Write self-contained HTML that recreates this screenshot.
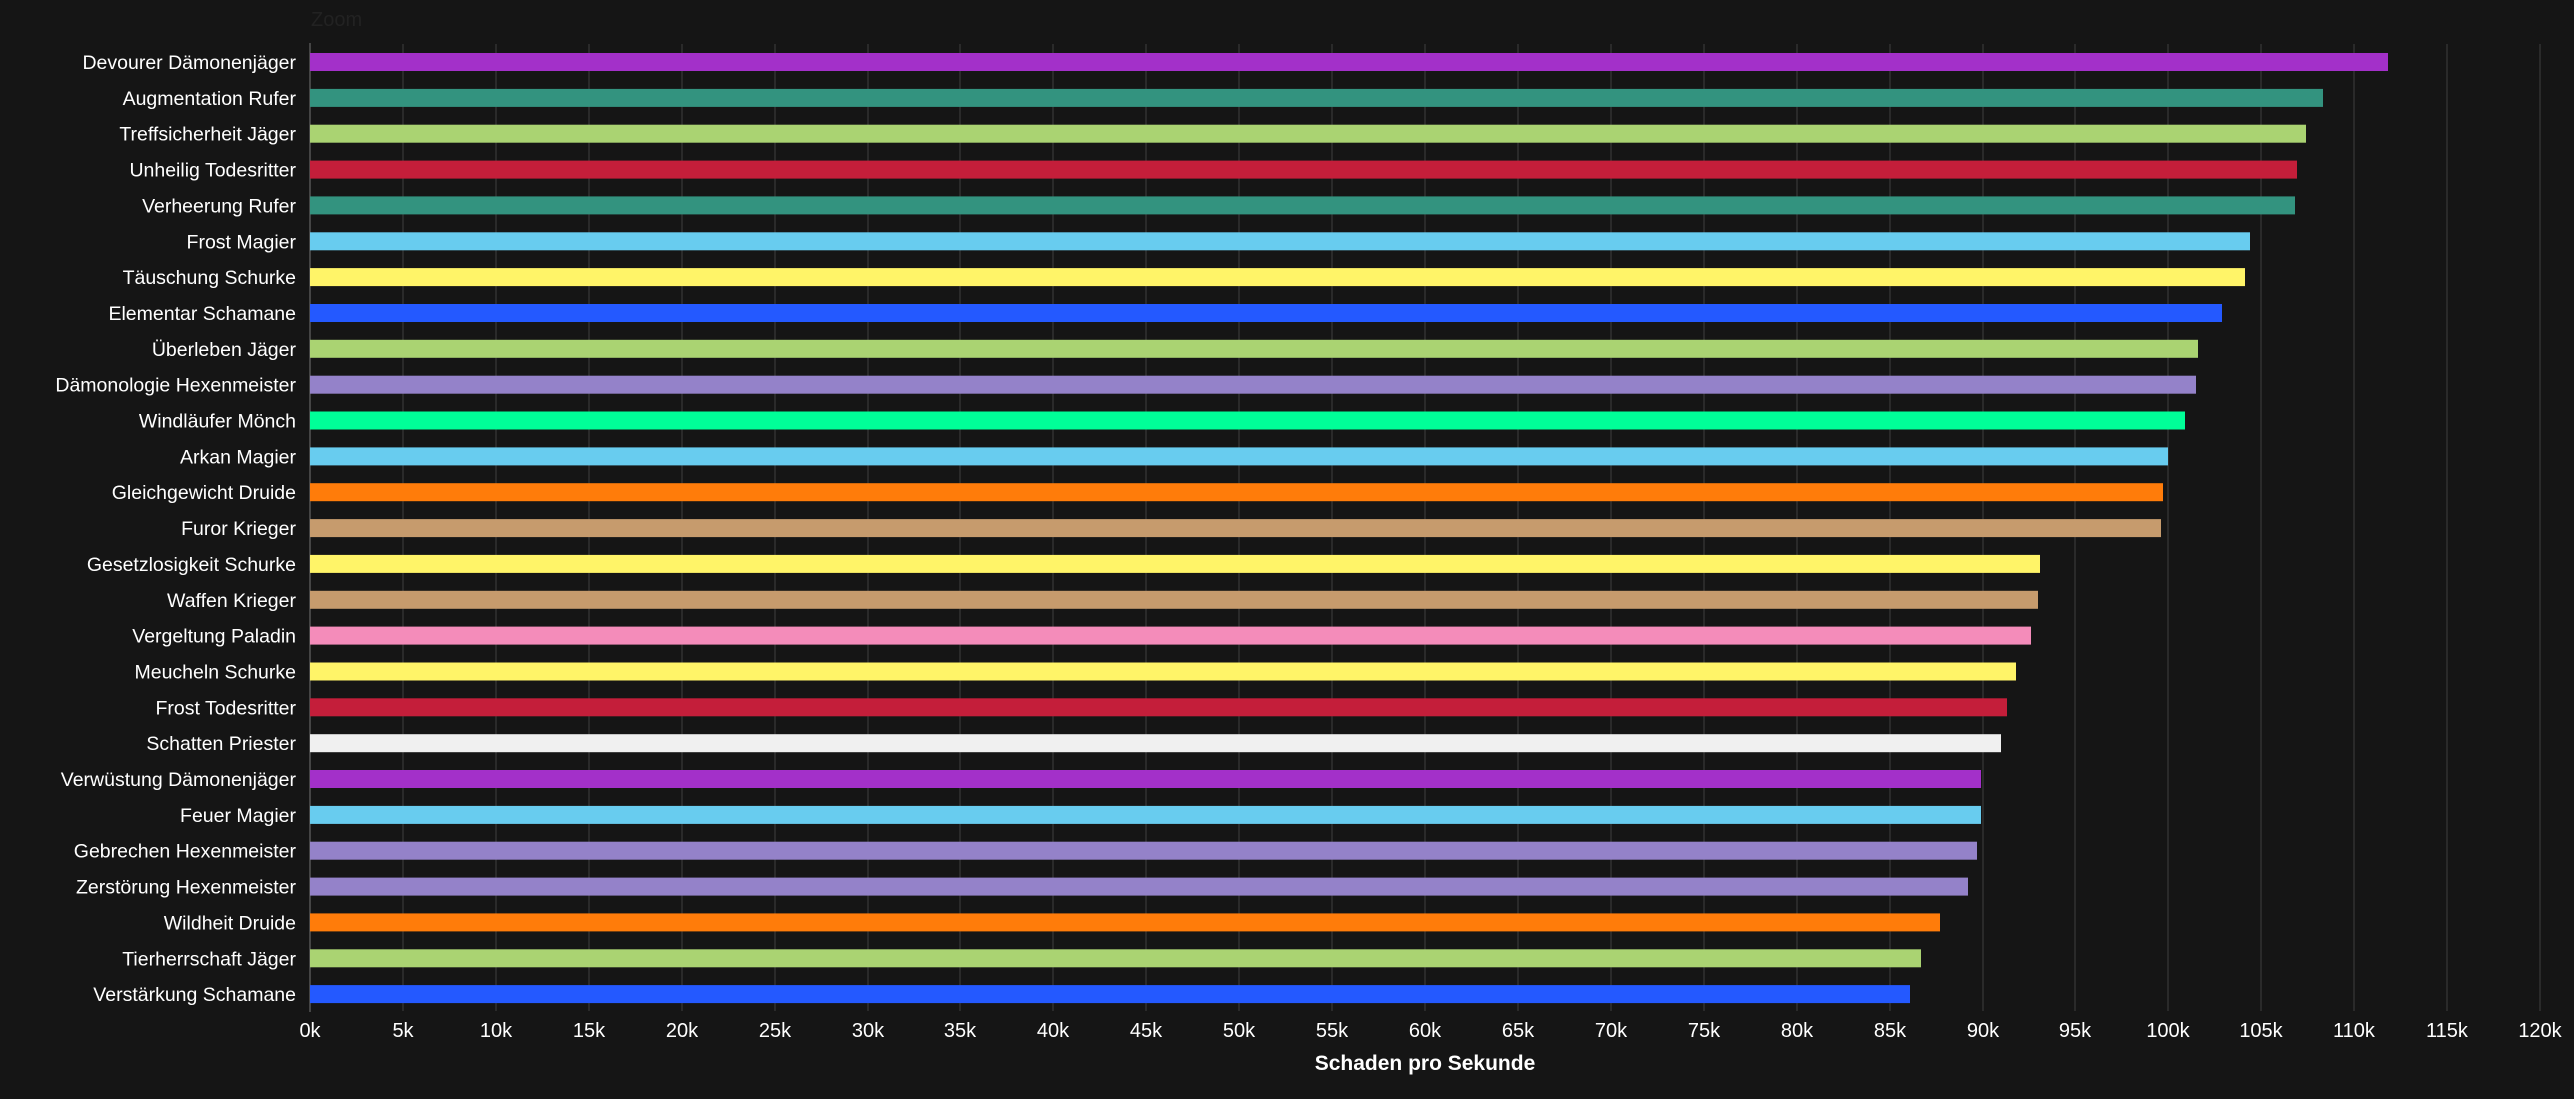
<!DOCTYPE html>
<html><head><meta charset="utf-8"><style>
html,body{margin:0;padding:0;background:#151515;}
svg{display:block;font-family:"Liberation Sans","DejaVu Sans",sans-serif;}
</style></head><body>
<svg width="2574" height="1099" viewBox="0 0 2574 1099" xmlns="http://www.w3.org/2000/svg">
<rect width="2574" height="1099" fill="#151515"/>
<text x="311" y="26" font-size="20" fill="#222">Zoom</text>
<g stroke="#2a2a2a" stroke-width="2">
<line x1="403" y1="44" x2="403" y2="1011"/><line x1="496" y1="44" x2="496" y2="1011"/><line x1="589" y1="44" x2="589" y2="1011"/><line x1="682" y1="44" x2="682" y2="1011"/><line x1="775" y1="44" x2="775" y2="1011"/><line x1="868" y1="44" x2="868" y2="1011"/><line x1="960" y1="44" x2="960" y2="1011"/><line x1="1053" y1="44" x2="1053" y2="1011"/><line x1="1146" y1="44" x2="1146" y2="1011"/><line x1="1239" y1="44" x2="1239" y2="1011"/><line x1="1332" y1="44" x2="1332" y2="1011"/><line x1="1425" y1="44" x2="1425" y2="1011"/><line x1="1518" y1="44" x2="1518" y2="1011"/><line x1="1611" y1="44" x2="1611" y2="1011"/><line x1="1704" y1="44" x2="1704" y2="1011"/><line x1="1797" y1="44" x2="1797" y2="1011"/><line x1="1890" y1="44" x2="1890" y2="1011"/><line x1="1983" y1="44" x2="1983" y2="1011"/><line x1="2075" y1="44" x2="2075" y2="1011"/><line x1="2168" y1="44" x2="2168" y2="1011"/><line x1="2261" y1="44" x2="2261" y2="1011"/><line x1="2354" y1="44" x2="2354" y2="1011"/><line x1="2447" y1="44" x2="2447" y2="1011"/><line x1="2540" y1="44" x2="2540" y2="1011"/>
</g>
<line x1="310" y1="43" x2="310" y2="1012" stroke="#444" stroke-width="2"/>
<g>
<rect x="310" y="53" width="2078" height="18" fill="#a330c9"/>
<rect x="310" y="88.9" width="2013" height="18" fill="#33937f"/>
<rect x="310" y="124.7" width="1996" height="18" fill="#aad372"/>
<rect x="310" y="160.6" width="1987" height="18" fill="#c41e3a"/>
<rect x="310" y="196.4" width="1985" height="18" fill="#33937f"/>
<rect x="310" y="232.3" width="1940" height="18" fill="#68ccef"/>
<rect x="310" y="268.1" width="1935" height="18" fill="#fff468"/>
<rect x="310" y="304" width="1912" height="18" fill="#2459ff"/>
<rect x="310" y="339.8" width="1888" height="18" fill="#aad372"/>
<rect x="310" y="375.7" width="1886" height="18" fill="#9482c9"/>
<rect x="310" y="411.5" width="1875" height="18" fill="#00ff98"/>
<rect x="310" y="447.4" width="1858" height="18" fill="#68ccef"/>
<rect x="310" y="483.2" width="1853" height="18" fill="#ff7c0a"/>
<rect x="310" y="519.1" width="1851" height="18" fill="#c69b6d"/>
<rect x="310" y="554.9" width="1730" height="18" fill="#fff468"/>
<rect x="310" y="590.8" width="1728" height="18" fill="#c69b6d"/>
<rect x="310" y="626.6" width="1721" height="18" fill="#f48cba"/>
<rect x="310" y="662.5" width="1706" height="18" fill="#fff468"/>
<rect x="310" y="698.3" width="1697" height="18" fill="#c41e3a"/>
<rect x="310" y="734.2" width="1691" height="18" fill="#f0f0f0"/>
<rect x="310" y="770" width="1671" height="18" fill="#a330c9"/>
<rect x="310" y="805.9" width="1671" height="18" fill="#68ccef"/>
<rect x="310" y="841.7" width="1667" height="18" fill="#9482c9"/>
<rect x="310" y="877.6" width="1658" height="18" fill="#9482c9"/>
<rect x="310" y="913.4" width="1630" height="18" fill="#ff7c0a"/>
<rect x="310" y="949.3" width="1611" height="18" fill="#aad372"/>
<rect x="310" y="985.1" width="1600" height="18" fill="#2459ff"/>
</g>
<g font-size="19.5" fill="#ffffff" text-anchor="end">
<text x="296" y="69">Devourer Dämonenjäger</text>
<text x="296" y="104.9">Augmentation Rufer</text>
<text x="296" y="140.7">Treffsicherheit Jäger</text>
<text x="296" y="176.6">Unheilig Todesritter</text>
<text x="296" y="212.4">Verheerung Rufer</text>
<text x="296" y="248.3">Frost Magier</text>
<text x="296" y="284.1">Täuschung Schurke</text>
<text x="296" y="320">Elementar Schamane</text>
<text x="296" y="355.8">Überleben Jäger</text>
<text x="296" y="391.7">Dämonologie Hexenmeister</text>
<text x="296" y="427.5">Windläufer Mönch</text>
<text x="296" y="463.4">Arkan Magier</text>
<text x="296" y="499.2">Gleichgewicht Druide</text>
<text x="296" y="535.1">Furor Krieger</text>
<text x="296" y="570.9">Gesetzlosigkeit Schurke</text>
<text x="296" y="606.8">Waffen Krieger</text>
<text x="296" y="642.6">Vergeltung Paladin</text>
<text x="296" y="678.5">Meucheln Schurke</text>
<text x="296" y="714.3">Frost Todesritter</text>
<text x="296" y="750.2">Schatten Priester</text>
<text x="296" y="786">Verwüstung Dämonenjäger</text>
<text x="296" y="821.9">Feuer Magier</text>
<text x="296" y="857.7">Gebrechen Hexenmeister</text>
<text x="296" y="893.6">Zerstörung Hexenmeister</text>
<text x="296" y="929.4">Wildheit Druide</text>
<text x="296" y="965.3">Tierherrschaft Jäger</text>
<text x="296" y="1001.1">Verstärkung Schamane</text>
</g>
<g font-size="20" fill="#ffffff" text-anchor="middle">
<text x="310" y="1037">0k</text><text x="403" y="1037">5k</text><text x="496" y="1037">10k</text><text x="589" y="1037">15k</text><text x="682" y="1037">20k</text><text x="775" y="1037">25k</text><text x="868" y="1037">30k</text><text x="960" y="1037">35k</text><text x="1053" y="1037">40k</text><text x="1146" y="1037">45k</text><text x="1239" y="1037">50k</text><text x="1332" y="1037">55k</text><text x="1425" y="1037">60k</text><text x="1518" y="1037">65k</text><text x="1611" y="1037">70k</text><text x="1704" y="1037">75k</text><text x="1797" y="1037">80k</text><text x="1890" y="1037">85k</text><text x="1983" y="1037">90k</text><text x="2075" y="1037">95k</text><text x="2168" y="1037">100k</text><text x="2261" y="1037">105k</text><text x="2354" y="1037">110k</text><text x="2447" y="1037">115k</text><text x="2540" y="1037">120k</text>
</g>
<text x="1425" y="1070" font-size="21" font-weight="bold" fill="#ffffff" text-anchor="middle">Schaden pro Sekunde</text>
</svg>
</body></html>
